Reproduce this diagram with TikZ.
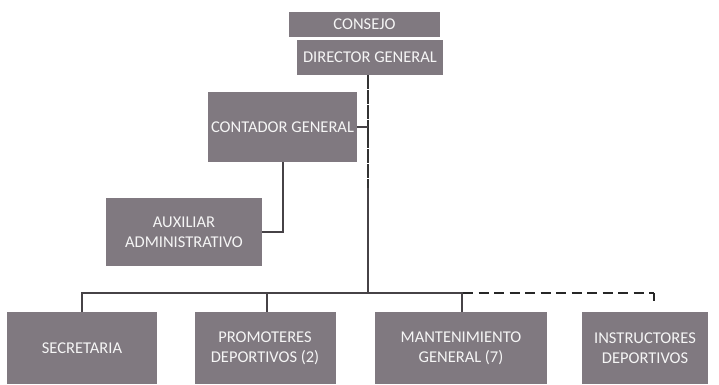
\documentclass[tikz,border=0pt]{standalone}
\usepackage{fontspec}
\setmainfont{Carlito}
\usepackage{xcolor}
\usepackage{tikz}
\usetikzlibrary{positioning, calc}

\definecolor{boxgray}{RGB}{128,121,128}
\definecolor{linegray}{RGB}{70,66,70}

\begin{document}
\begin{tikzpicture}[x=1pt, y=-1pt,
    caja/.style={fill=boxgray, text=white!92!gray, align=center,
      font=\fontsize{16.5}{20}\selectfont, inner sep=0pt},
    linea/.style={draw=linegray, line width=1.3pt},
    gruesa/.style={draw=black!85, line width=2.6pt, dash pattern=on 10pt off 5.5pt}]
    \useasboundingbox (0,0) rectangle (719,384);
    % Organigrama
    \node[caja, minimum width=151pt, minimum height=25pt] (consejo) at (364.5,24) {CONSEJO};
    \node[caja, minimum width=146pt, minimum height=35pt] (director) at (370,57.5) {DIRECTOR GENERAL};
    \node[caja, minimum width=149pt, minimum height=70pt] (contador) at (282.5,127) {CONTADOR GENERAL};
    \node[caja, minimum width=156pt, minimum height=68pt] (auxiliar) at (184,232) {AUXILIAR\\ADMINISTRATIVO};

    \node[caja, minimum width=150pt, minimum height=72pt] (secretaria) at (82,348) {SECRETARIA};
    \node[caja, minimum width=141pt, minimum height=72pt] (promoteres) at (265,348) {PROMOTERES\\DEPORTIVOS (2)};
    \node[caja, minimum width=172pt, minimum height=72pt] (mantenimiento) at (461,348) {MANTENIMIENTO\\GENERAL (7)};
    \node[caja, minimum width=126pt, minimum height=72pt] (instructores) at (645,348) {INSTRUCTORES\\DEPORTIVOS};

    % Lineas
    \coordinate (quiebre) at (368,188);
    \coordinate (barra) at (368,293);
    \coordinate (fin) at (654,293);
    \coordinate (punta) at (654,301);
    \draw[draw=black!80, line width=2.2pt, dash pattern=on 14pt off 0.8pt] (director.south -| quiebre) -- (quiebre);
    \draw[linea] (quiebre) -- (barra);
    \draw[linea] (contador.east) -- (contador.east -| quiebre);
    \draw[linea] ([xshift=0.5pt]contador.south) |- (auxiliar.east);
    \draw[linea] (secretaria.north) |- (barra) -| ([xshift=1pt]mantenimiento.north);
    \draw[linea] ([xshift=2pt]promoteres.north) |- (barra);
    \draw[gruesa] (barra -| mantenimiento.north) ++(2pt,0) -- (fin);
    \draw[line width=2.6pt, black!85] (fin) -- (punta);
\end{tikzpicture}
\end{document}
